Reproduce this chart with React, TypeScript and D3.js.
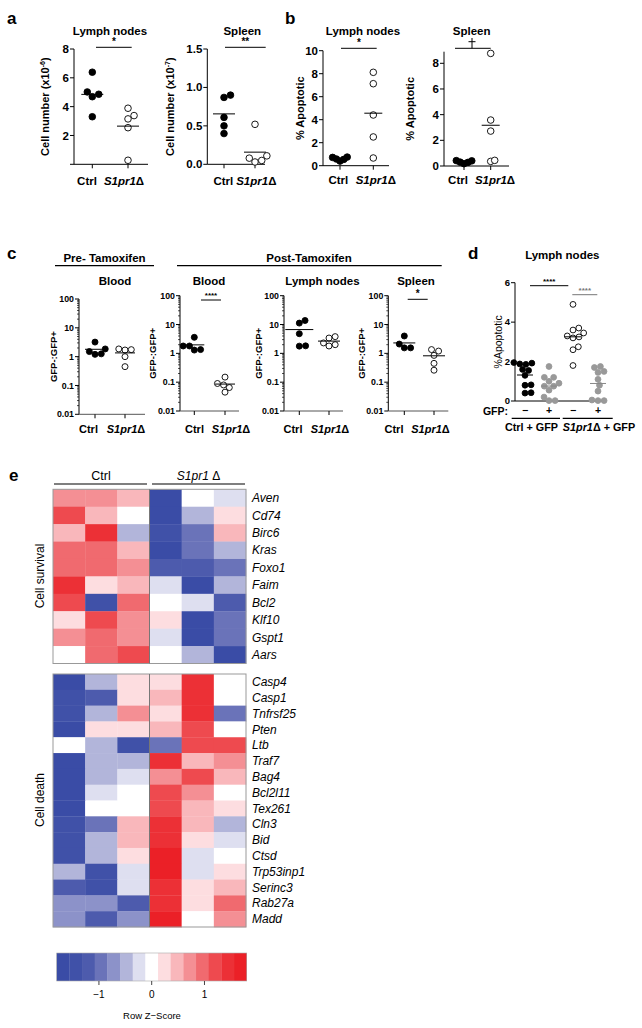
import React from "react";
import * as d3 from "d3";

const FONT = "'Liberation Sans', Arial, Helvetica, sans-serif";

// ---------- Panel a ----------
const aLymphCtrl = [6.39, 4.86, 4.69, 5.02, 3.3];
const aLymphKO = [3.38, 3.15, 3.89, 2.54, 0.28];
const aSpleenCtrl = [0.87, 0.9, 0.61, 0.5, 0.4];
const aSpleenKO = [0.52, 0.08, 0.11, 0.05, 0.03];
const aLymphTicks = [0, 2, 4, 6, 8];
const aSpleenTicks = [0, 0.5, 1.0, 1.5];

// ---------- Panel b ----------
const bLymphCtrl = [0.75, 0.58, 0.4, 0.55, 0.72];
const bLymphKO = [8.12, 7.13, 4.41, 2.5, 0.67];
const bSpleenCtrl = [0.42, 0.3, 0.18, 0.28, 0.4];
const bSpleenKO = [8.77, 3.58, 2.72, 0.36, 0.44];
const bLymphTicks = [0, 2, 4, 6, 8, 10];
const bSpleenTicks = [0, 2, 4, 6, 8];

// ---------- Panel c ----------
const cPreBloodCtrl = [1.5, 1.2, 1.25, 1.85, 3.2];
const cPreBloodKO = [1.7, 1.85, 1.75, 1.0, 0.45];
const cPostBloodCtrl = [3.6, 1.8, 1.8, 1.35, 1.3];
const cPostBloodKO = [0.15, 0.09, 0.08, 0.065, 0.045];
const cLymphCtrl = [11.2, 13.8, 4.8, 1.78, 1.82];
const cLymphKO = [3.8, 3.4, 2.3, 1.8, 2.0];
const cSpleenCtrl = [2.1, 4.0, 1.55, 1.55];
const cSpleenKO = [1.2, 1.35, 0.85, 0.45, 0.26];
const cTicks = [0.01, 0.1, 1, 10, 100];

// ---------- Panel d ----------
const dCtrlNeg = [1.95, 1.88, 1.92, 1.86, 1.6, 1.55, 1.3, 0.82, 0.8, 0.42, 0.4];
const dCtrlPos = [1.75, 1.2, 1.2, 1.0, 0.9, 0.75, 0.75, 0.55, 0.2, 0.02, 0.02];
const dKONeg = [4.9, 3.7, 3.6, 3.45, 3.3, 3.25, 3.2, 2.75, 2.6, 1.8];
const dKOPos = [1.75, 1.7, 1.5, 1.45, 1.1, 0.8, 0.5, 0.05, 0.02, 0.02];
const dTicks = [0, 2, 4, 6];
const dGfp = ["−", "+", "−", "+"];

// ---------- Panel e ----------
const survivalGenes = ["Aven", "Cd74", "Birc6", "Kras", "Foxo1", "Faim", "Bcl2", "Klf10", "Gspt1", "Aars"];
const survivalZ = [
  [0.72, 0.72, 0.48, -1.68, 0.0, -0.24],
  [1.2, 0.48, 0.0, -1.68, -0.48, 0.24],
  [0.48, 1.44, -0.48, -1.44, -0.96, 0.48],
  [0.96, 0.96, 0.48, -1.68, -0.96, -0.48],
  [0.96, 0.96, 0.72, -1.2, -1.2, -0.96],
  [1.44, 0.24, 0.48, -0.24, -1.68, -0.48],
  [1.2, -1.44, 0.96, 0.0, -0.24, -1.2],
  [0.24, 1.2, 0.72, 0.24, -1.68, -0.96],
  [0.72, 0.96, 0.72, -0.24, -1.68, -0.96],
  [0.0, 0.96, 1.2, 0.0, -0.48, -1.68],
];
const deathGenes = ["Casp4", "Casp1", "Tnfrsf25", "Pten", "Ltb", "Traf7", "Bag4", "Bcl2l11", "Tex261", "Cln3", "Bid", "Ctsd", "Trp53inp1", "Serinc3", "Rab27a", "Madd"];
const deathZ = [
  [-1.68, -0.48, 0.24, 0.24, 1.44, 0.0],
  [-1.44, -1.2, 0.24, 0.48, 1.44, 0.0],
  [-1.44, -0.48, 0.72, 0.24, 1.44, -0.96],
  [-1.68, 0.24, 0.24, 0.48, 1.2, 0.0],
  [0.0, -0.48, -1.44, -0.96, 1.2, 1.2],
  [-1.68, -0.48, -0.48, 1.44, 0.48, 0.72],
  [-1.68, -0.48, -0.24, 0.72, 1.2, 0.48],
  [-1.68, -0.24, 0.0, 1.2, 0.72, 0.0],
  [-1.68, 0.0, 0.0, 1.2, 0.48, 0.24],
  [-1.44, -0.96, 0.48, 1.44, 0.48, -0.48],
  [-1.44, -0.48, 0.48, 1.44, 0.24, -0.24],
  [-1.44, -0.48, 0.24, 1.68, -0.24, 0.0],
  [-0.48, -1.44, -0.24, 1.68, -0.24, 0.24],
  [-1.2, -1.44, -0.24, 1.44, 0.24, 0.48],
  [-0.72, -0.72, -1.2, 1.44, 0.24, 0.96],
  [-0.72, -1.2, -0.72, 1.68, 0.0, 0.72],
];
const sampleCols = [0, 1, 2, 3, 4, 5];
const palette = [
  "#3a4ca6", "#4051a8", "#4d5bad", "#6a73b9", "#8c92c9", "#b2b5da", "#dedff0",
  "#ffffff",
  "#fddde0", "#f9b7bb", "#f48f94", "#f06a6f", "#ee4a4f", "#ec3036", "#eb2027",
];
const legendTicks = [-1, 0, 1];

// ---------- helpers ----------
function dodge(ys: number[], r: number, pack = 1): number[] {
  const order = ys.map((_, i) => i).sort((a, b) => ys[b] - ys[a]);
  const placed: { x: number; y: number }[] = [];
  const out = new Array(ys.length).fill(0);
  const d = (2 * r + 0.3) * pack;
  for (const i of order) {
    const y = ys[i];
    const cands = [0];
    for (const p of placed) {
      const dy = Math.abs(p.y - y);
      if (dy < d) {
        const dx = Math.sqrt(d * d - dy * dy);
        cands.push(p.x + dx, p.x - dx);
      }
    }
    cands.sort((a, b) => Math.abs(a) - Math.abs(b) || b - a);
    for (const c of cands) {
      if (placed.every((p) => (p.x - c) ** 2 + (p.y - y) ** 2 >= d * d - 0.05)) {
        out[i] = c;
        placed.push({ x: c, y });
        break;
      }
    }
  }
  return out;
}

const KO = ({ x, y, fs }: { x: number; y: number; fs: number }) => (
  <text x={x} y={y} textAnchor="middle" fontSize={fs} fontWeight="bold">
    <tspan fontStyle="italic">S1pr1</tspan>
    <tspan>Δ</tspan>
  </text>
);

type Grp = { x: number; values: number[]; fill: string; stroke: string; lineColor?: string; half: number };

function Scatter(p: {
  y: any;
  ax: number;
  axEnd: number;
  yTop?: number;
  ticks: number[];
  fmt: (v: number) => string;
  tickFs: number;
  tickWeight?: string;
  minor?: number[];
  groups: Grp[];
  r: number;
  pack?: number;
  xTicks?: boolean;
  labels?: { x: number; ko: boolean }[];
  labelY?: number;
  labelFs?: number;
  title?: string;
  titleX?: number;
  titleY?: number;
  titleFs?: number;
  ylab: React.ReactNode;
  ylabX: number;
  ylabFs: number;
  ylabWeight?: string;
  xAxisColor?: string;
}) {
  const [bottom, top0] = p.y.range();
  const top = p.yTop ?? top0;
  const midY = (bottom + top) / 2;
  return (
    <g>
      <line x1={p.ax} x2={p.ax} y1={top} y2={bottom} stroke="#000" strokeWidth={1} />
      {p.ticks.map((t) => (
        <g key={"t" + t}>
          <line x1={p.ax - 4} x2={p.ax} y1={p.y(t)} y2={p.y(t)} stroke="#000" />
          <text x={p.ax - 5} y={p.y(t)} dy="0.35em" textAnchor="end" fontSize={p.tickFs} fontWeight={p.tickWeight ?? "bold"}>
            {p.fmt(t)}
          </text>
        </g>
      ))}
      {(p.minor ?? []).map((t, i) => (
        <line key={"m" + i} x1={p.ax - 2} x2={p.ax} y1={p.y(t)} y2={p.y(t)} stroke="#000" strokeWidth={0.7} />
      ))}
      <line x1={p.ax} x2={p.axEnd} y1={bottom} y2={bottom} stroke={p.xAxisColor ?? "#000"} />
      {p.xTicks !== false &&
        p.groups.map((g, i) => <line key={"xt" + i} x1={g.x} x2={g.x} y1={bottom} y2={bottom + 4} stroke="#000" />)}
      {p.groups.map((g, gi) => {
        const ys = g.values.map((v) => p.y(v));
        const offs = dodge(ys, p.r, p.pack ?? 1);
        const m = d3.mean(g.values) as number;
        return (
          <g key={"g" + gi}>
            {ys.map((yy, i) => (
              <circle key={i} cx={g.x + offs[i]} cy={yy} r={p.r} fill={g.fill} stroke={g.stroke} strokeWidth={0.9} />
            ))}
            <line x1={g.x - g.half} x2={g.x + g.half} y1={p.y(m)} y2={p.y(m)} stroke={g.lineColor ?? "#000"} strokeWidth={1} />
          </g>
        );
      })}
      {(p.labels ?? []).map((l, i) =>
        l.ko ? (
          <KO key={"l" + i} x={l.x} y={p.labelY!} fs={p.labelFs!} />
        ) : (
          <text key={"l" + i} x={l.x} y={p.labelY} textAnchor="middle" fontSize={p.labelFs} fontWeight="bold">
            Ctrl
          </text>
        )
      )}
      {p.title && (
        <text x={p.titleX} y={p.titleY} textAnchor="middle" fontSize={p.titleFs} fontWeight="bold">
          {p.title}
        </text>
      )}
      <text
        transform={`translate(${p.ylabX},${midY}) rotate(-90)`}
        textAnchor="middle"
        dy="0.35em"
        fontSize={p.ylabFs}
        fontWeight={p.ylabWeight ?? "bold"}
      >
        {p.ylab}
      </text>
    </g>
  );
}

const SigBar = ({ x1, x2, y, text, color = "#000", fs = 10 }: any) => (
  <g>
    <line x1={x1} x2={x2} y1={y} y2={y} stroke={color} strokeWidth={1} />
    {text && (
      <text x={(x1 + x2) / 2} y={y - 2} textAnchor="middle" fontSize={fs} fill={color} fontWeight="bold">
        {text}
      </text>
    )}
  </g>
);

function logMinor(): number[] {
  const out: number[] = [];
  for (const dec of [0.01, 0.1, 1, 10]) for (let k = 2; k <= 9; k++) out.push(dec * k);
  return out;
}

const fmtLog = (v: number) => String(v);

export default function App() {
  const yA1 = d3.scaleLinear().domain([0, 8]).range([164.3, 49]);
  const yA2 = d3.scaleLinear().domain([0, 1.5]).range([164.3, 49]);
  const yB1 = d3.scaleLinear().domain([0, 10]).range([165.7, 50.7]);
  const yB2 = d3.scaleLinear().domain([0, 8]).range([166, 63.3]);
  const yCpre = d3.scaleLog().domain([0.01, 100]).range([414.3, 299]);
  const yCpost = d3.scaleLog().domain([0.01, 100]).range([411, 295.7]);
  const yD = d3.scaleLinear().domain([0, 6]).range([401, 282.7]);
  const dX = [525, 549, 573, 598];

  const xH = d3.scaleBand<number>().domain(sampleCols).range([53, 246]);
  const ySurv = d3.scaleBand<string>().domain(survivalGenes).range([489.3, 663.5]);
  const yDeath = d3.scaleBand<string>().domain(deathGenes).range([674, 927]);
  const color = d3.scaleQuantize<string>().domain([-1.8, 1.8]).range(palette);
  const xLeg = d3.scaleLinear().domain([-1.8, 1.8]).range([56.7, 246.7]);
  const binW = 3.6 / palette.length;

  const minor = logMinor();
  const filled = (x: number, values: number[], half = 10): Grp => ({ x, values, fill: "#000", stroke: "#000", half });
  const open = (x: number, values: number[], half = 10): Grp => ({ x, values, fill: "#fff", stroke: "#000", half });
  const grey = (x: number, values: number[], half = 8): Grp => ({ x, values, fill: "#999", stroke: "#999", lineColor: "#888", half });

  const heatBlock = (genes: string[], z: number[][], yb: any) => {
    const [y0, y1] = yb.range();
    return (
      <g>
        {genes.map((g, ri) =>
          sampleCols.map((c) => (
            <rect key={g + c} x={xH(c)} y={yb(g)} width={xH.bandwidth() + 0.3} height={yb.bandwidth() + 0.3} fill={color(z[ri][c])} />
          ))
        )}
        <rect x={53} y={y0} width={193} height={y1 - y0} fill="none" stroke="#999" strokeWidth={1} />
        <line x1={xH(3)} x2={xH(3)} y1={y0} y2={y1} stroke="#777" strokeWidth={1} />
        {genes.map((g) => (
          <text key={"lab" + g} x={252} y={yb(g) + yb.bandwidth() / 2} dy="0.35em" fontSize={12} fontStyle="italic">
            {g}
          </text>
        ))}
      </g>
    );
  };

  return (
    <svg width={642} height={1028} style={{ position: "absolute", left: 0, top: 0, background: "#fff" }} fontFamily={FONT}>
      <rect x={0} y={0} width={642} height={1028} fill="#fff" />
      <text x={7} y={24} fontSize={17} fontWeight="bold">a</text>
      <text x={285} y={24} fontSize={17} fontWeight="bold">b</text>
      <text x={7} y={259} fontSize={17} fontWeight="bold">c</text>
      <text x={468} y={259} fontSize={17} fontWeight="bold">d</text>
      <text x={9} y={481} fontSize={17} fontWeight="bold">e</text>

      {/* Panel a */}
      <Scatter
        y={yA1} ax={74} axEnd={148} ticks={aLymphTicks} fmt={(v) => (v === 0 ? "" : String(v))} tickFs={11.5}
        groups={[filled(92.3, aLymphCtrl, 11), open(128, aLymphKO, 11)]} r={3.3}
        labels={[{ x: 87, ko: false }, { x: 124, ko: true }]} labelY={185} labelFs={11.5}
        title="Lymph nodes" titleX={110} titleY={35} titleFs={11.5}
        ylab={<>Cell number (x10<tspan dy={-4} fontSize={7}>-6</tspan><tspan dy={4}>)</tspan></>} ylabX={45} ylabFs={11}
      />
      <SigBar x1={96} x2={131.7} y={47.3} text="*" />
      <Scatter
        y={yA2} ax={207.3} axEnd={265} ticks={aSpleenTicks} fmt={(v) => v.toFixed(1)} tickFs={11.5}
        groups={[filled(224, aSpleenCtrl, 11), open(255, aSpleenKO, 11)]} r={3.3}
        labels={[{ x: 223.3, ko: false }, { x: 256.3, ko: true }]} labelY={185} labelFs={11.5}
        title="Spleen" titleX={242.3} titleY={35} titleFs={11.5}
        ylab={<>Cell number (x10<tspan dy={-4} fontSize={7}>-7</tspan><tspan dy={4}>)</tspan></>} ylabX={170} ylabFs={11}
      />
      <SigBar x1={225} x2={265.7} y={47.3} text="**" />

      {/* Panel b */}
      <Scatter
        y={yB1} ax={323} axEnd={389} ticks={bLymphTicks} fmt={(v) => String(v)} tickFs={11.5}
        groups={[filled(340, bLymphCtrl, 9), open(373.3, bLymphKO, 9)]} r={3.3} pack={0.6}
        labels={[{ x: 338.3, ko: false }, { x: 375.8, ko: true }]} labelY={184} labelFs={11.5}
        title="Lymph nodes" titleX={363} titleY={35} titleFs={11.5}
        ylab="% Apoptotic" ylabX={300} ylabFs={11}
      />
      <SigBar x1={341} x2={376.7} y={48.3} text="*" />
      <Scatter
        y={yB2} yTop={51.7} ax={444} axEnd={509} ticks={bSpleenTicks} fmt={(v) => String(v)} tickFs={11.5}
        groups={[filled(464, bSpleenCtrl, 9), open(490.7, bSpleenKO, 9)]} r={3.3} pack={0.6}
        labels={[{ x: 458, ko: false }, { x: 495, ko: true }]} labelY={184} labelFs={11.5}
        title="Spleen" titleX={471.7} titleY={35} titleFs={11.5}
        ylab="% Apoptotic" ylabX={410} ylabFs={11}
      />
      <SigBar x1={455} x2={490.7} y={48.3} />
      <line x1={472} x2={472} y1={38} y2={48.3} stroke="#000" />
      <line x1={468.5} x2={475.5} y1={41.7} y2={41.7} stroke="#000" />

      {/* Panel c headers */}
      <text x={104.5} y={261.7} textAnchor="middle" fontSize={11.5} fontWeight="bold">Pre- Tamoxifen</text>
      <line x1={55} x2={154} y1={265.7} y2={265.7} stroke="#000" strokeWidth={1.2} />
      <text x={309} y={261.7} textAnchor="middle" fontSize={11.5} fontWeight="bold">Post-Tamoxifen</text>
      <line x1={177} x2={441.7} y1={265.7} y2={265.7} stroke="#000" strokeWidth={1.2} />

      <Scatter
        y={yCpre} ax={79} axEnd={145} ticks={cTicks} fmt={fmtLog} tickFs={8.8} minor={minor}
        groups={[filled(95, cPreBloodCtrl, 10), open(125, cPreBloodKO, 10)]} r={3}
        labels={[{ x: 88.5, ko: false }, { x: 126, ko: true }]} labelY={433.3} labelFs={11}
        title="Blood" titleX={115} titleY={285} titleFs={11.5}
        ylab="GFP-:GFP+" ylabX={53.3} ylabFs={9.5} xAxisColor="#555"
      />
      <Scatter
        y={yCpost} ax={180} axEnd={239} ticks={cTicks} fmt={fmtLog} tickFs={8.8} minor={minor}
        groups={[filled(194.3, cPostBloodCtrl, 10), open(225, cPostBloodKO, 10)]} r={3}
        labels={[{ x: 194.5, ko: false }, { x: 231, ko: true }]} labelY={433.3} labelFs={11}
        title="Blood" titleX={209} titleY={285} titleFs={11.5}
        ylab="GFP-:GFP+" ylabX={153} ylabFs={9.5} xAxisColor="#555"
      />
      <SigBar x1={201} x2={221} y={300} text="****" fs={8} />
      <Scatter
        y={yCpost} ax={284} axEnd={343} ticks={cTicks} fmt={fmtLog} tickFs={8.8} minor={minor}
        groups={[filled(299.3, cLymphCtrl, 14), open(329, cLymphKO, 11)]} r={3}
        labels={[{ x: 293, ko: false }, { x: 330, ko: true }]} labelY={433.3} labelFs={11}
        title="Lymph nodes" titleX={322.5} titleY={285} titleFs={11.5}
        ylab="GFP-:GFP+" ylabX={258.3} ylabFs={9.5} xAxisColor="#555"
      />
      <Scatter
        y={yCpost} ax={388.3} axEnd={448.3} ticks={cTicks} fmt={fmtLog} tickFs={8.8} minor={minor}
        groups={[filled(404.3, cSpleenCtrl, 11), open(434, cSpleenKO, 11)]} r={3}
        labels={[{ x: 394, ko: false }, { x: 430.5, ko: true }]} labelY={433.3} labelFs={11}
        title="Spleen" titleX={416} titleY={285} titleFs={11.5}
        ylab="GFP-:GFP+" ylabX={361.7} ylabFs={9.5} xAxisColor="#555"
      />
      <SigBar x1={407.7} x2={427.7} y={299.3} text="*" />

      {/* Panel d */}
      <Scatter
        y={yD} ax={515} axEnd={605} ticks={dTicks} fmt={(v) => String(v)} tickFs={9.5}
        groups={[filled(dX[0], dCtrlNeg, 8), grey(dX[1], dCtrlPos, 8), open(dX[2], dKONeg, 8), grey(dX[3], dKOPos, 8)]}
        r={2.9} xTicks={false}
        title="Lymph nodes" titleX={562.3} titleY={259.3} titleFs={11.5}
        ylab="%Apoptotic" ylabX={498.3} ylabFs={10.5} ylabWeight="normal"
      />
      <SigBar x1={530} x2={568.3} y={285.7} text="****" fs={8} />
      <SigBar x1={572.3} x2={597.3} y={294.7} text="****" fs={8} color="#777" />
      <text x={508} y={414.5} textAnchor="end" fontSize={10.5} fontWeight="bold">GFP:</text>
      {dGfp.map((s, i) => (
        <text key={"gfp" + i} x={dX[i]} y={414} textAnchor="middle" fontSize={10.5} fontWeight="bold">{s}</text>
      ))}
      <line x1={511.7} x2={560} y1={418.3} y2={418.3} stroke="#000" strokeWidth={1.3} />
      <line x1={562.7} x2={612.7} y1={418.3} y2={418.3} stroke="#000" strokeWidth={1.3} />
      <text x={531.5} y={431} textAnchor="middle" fontSize={10.8} fontWeight="bold">Ctrl + GFP</text>
      <text x={599} y={431} textAnchor="middle" fontSize={10.8} fontWeight="bold">
        <tspan fontStyle="italic">S1pr1</tspan><tspan>Δ + GFP</tspan>
      </text>

      {/* Panel e heatmap */}
      <text x={101} y={480} textAnchor="middle" fontSize={12.5}>Ctrl</text>
      <text x={198.5} y={480} textAnchor="middle" fontSize={12}>
        <tspan fontStyle="italic">S1pr1</tspan><tspan> Δ</tspan>
      </text>
      <line x1={54} x2={147} y1={484} y2={484} stroke="#000" strokeWidth={1.2} />
      <line x1={152} x2={245} y1={484} y2={484} stroke="#000" strokeWidth={1.2} />
      {heatBlock(survivalGenes, survivalZ, ySurv)}
      {heatBlock(deathGenes, deathZ, yDeath)}
      <text transform={`translate(40,576) rotate(-90)`} textAnchor="middle" dy="0.35em" fontSize={12}>Cell survival</text>
      <text transform={`translate(40,800) rotate(-90)`} textAnchor="middle" dy="0.35em" fontSize={12}>Cell death</text>

      {/* Legend */}
      {palette.map((c, i) => (
        <rect key={"lg" + i} x={xLeg(-1.8 + i * binW)} y={953} width={xLeg(binW) - xLeg(0) + 0.3} height={28} fill={c} />
      ))}
      <rect x={56.7} y={953} width={190} height={28} fill="none" stroke="#aaa" strokeWidth={0.6} />
      {legendTicks.map((t) => (
        <g key={"lt" + t}>
          <line x1={xLeg(t)} x2={xLeg(t)} y1={981} y2={985} stroke="#444" />
          <text x={xLeg(t)} y={998} textAnchor="middle" fontSize={10}>{t < 0 ? "−" + Math.abs(t) : String(t)}</text>
        </g>
      ))}
      <text x={152} y={1019} textAnchor="middle" fontSize={9.5}>Row Z−Score</text>
    </svg>
  );
}
